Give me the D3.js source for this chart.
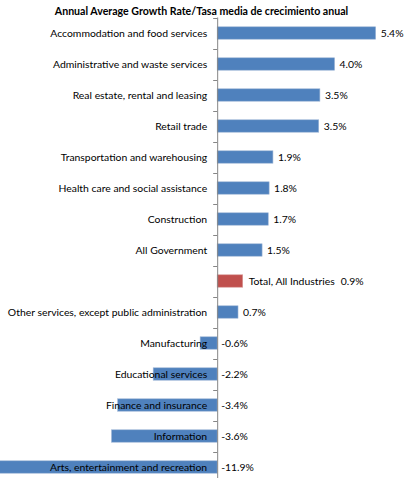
<!DOCTYPE html>
<html><head><meta charset="utf-8">
<script src="https://cdn.jsdelivr.net/npm/d3@7"></script>
<style>
html,body{margin:0;padding:0;background:#fff;}
svg{display:block;font-family:Lato,"Open Sans",sans-serif;}
</style></head>
<body>
<svg id="c" width="405" height="478"></svg>
<script>
const subtitle = "Annual Average Growth Rate/Tasa media de crecimiento anual";
const categories = [
  "Accommodation and food services",
  "Administrative and waste services",
  "Real estate, rental and leasing",
  "Retail trade",
  "Transportation and warehousing",
  "Health care and social assistance",
  "Construction",
  "All Government",
  "Total, All Industries",
  "Other services, except public administration",
  "Manufacturing",
  "Educational services",
  "Finance and insurance",
  "Information",
  "Arts, entertainment and recreation"
];
const values = [5.4, 4.0, 3.5, 3.46, 1.9, 1.77, 1.74, 1.53, 0.87, 0.71, -0.58, -2.18, -3.39, -3.6, -11.9];
const valueLabels = ["5.4%","4.0%","3.5%","3.5%","1.9%","1.8%","1.7%","1.5%","0.9%","0.7%","-0.6%","-2.2%","-3.4%","-3.6%","-11.9%"];
const totalCategory = "Total, All Industries";

const svg = d3.select("#c");
const blue = "#4F81BD", red = "#C0504D";

const x = d3.scaleLinear().domain([-7.4, 6.4]).range([0, 405]);
const y = d3.scaleBand().domain(categories).range([17.5, 482.5]).paddingInner(0.6).paddingOuter(0.3);
const x0 = x(0);

svg.append("text").attr("x", 201.5).attr("y", 15).attr("text-anchor","middle")
  .attr("font-weight","bold").attr("font-size", 10.6).attr("fill","#000").text(subtitle);

// bars
svg.selectAll("rect.bar").data(categories).join("rect")
  .attr("class","bar")
  .attr("x", (d,i)=> Math.min(x(values[i]), x0))
  .attr("width", (d,i)=> Math.abs(x(values[i]) - x0))
  .attr("y", d=> y(d))
  .attr("height", y.bandwidth())
  .attr("fill", d=> d===totalCategory ? red : blue)
  .attr("stroke", d=> d===totalCategory ? "#d99a98" : "#9db5d6")
  .attr("stroke-width", 0.6);

// axis line and ticks
const boundaries = d3.range(categories.length + 1).map(i => y.range()[0] + i*y.step());
const g = svg.append("g");
g.append("line").attr("x1", x0+0.5).attr("x2", x0+0.5)
  .attr("y1", boundaries[0]).attr("y2", 478).attr("stroke","#868686");
g.selectAll("line.tick").data(boundaries).join("line").attr("class","tick")
  .attr("x1", x0-4).attr("x2", x0).attr("y1", d=>Math.round(d)+0.5).attr("y2", d=>Math.round(d)+0.5)
  .attr("stroke","#868686");

// category labels
svg.selectAll("text.cat").data(categories.filter(c=>c!==totalCategory)).join("text")
  .attr("class","cat").attr("x", x0-10).attr("y", d=> y(d)+y.bandwidth()/2)
  .attr("dy","0.35em").attr("text-anchor","end").attr("font-size", 10.4).attr("fill","#000").text(d=>d);

// value labels
svg.selectAll("text.val").data(categories).join("text")
  .attr("class","val")
  .attr("x", (d,i)=> values[i] >= 0 ? x(values[i]) + 5 : x0 + 4)
  .attr("y", d=> y(d)+y.bandwidth()/2)
  .attr("dy","0.35em").attr("font-size", 10.4).attr("fill","#000")
  .each(function(d,i){
    const t = d3.select(this);
    if (d===totalCategory) {
      t.attr("x", x(values[i]) + 6);
      t.append("tspan").text(d);
      t.append("tspan").attr("dx", 6).text(valueLabels[i]);
    } else t.text(valueLabels[i]);
  });
</script>
</body></html>
